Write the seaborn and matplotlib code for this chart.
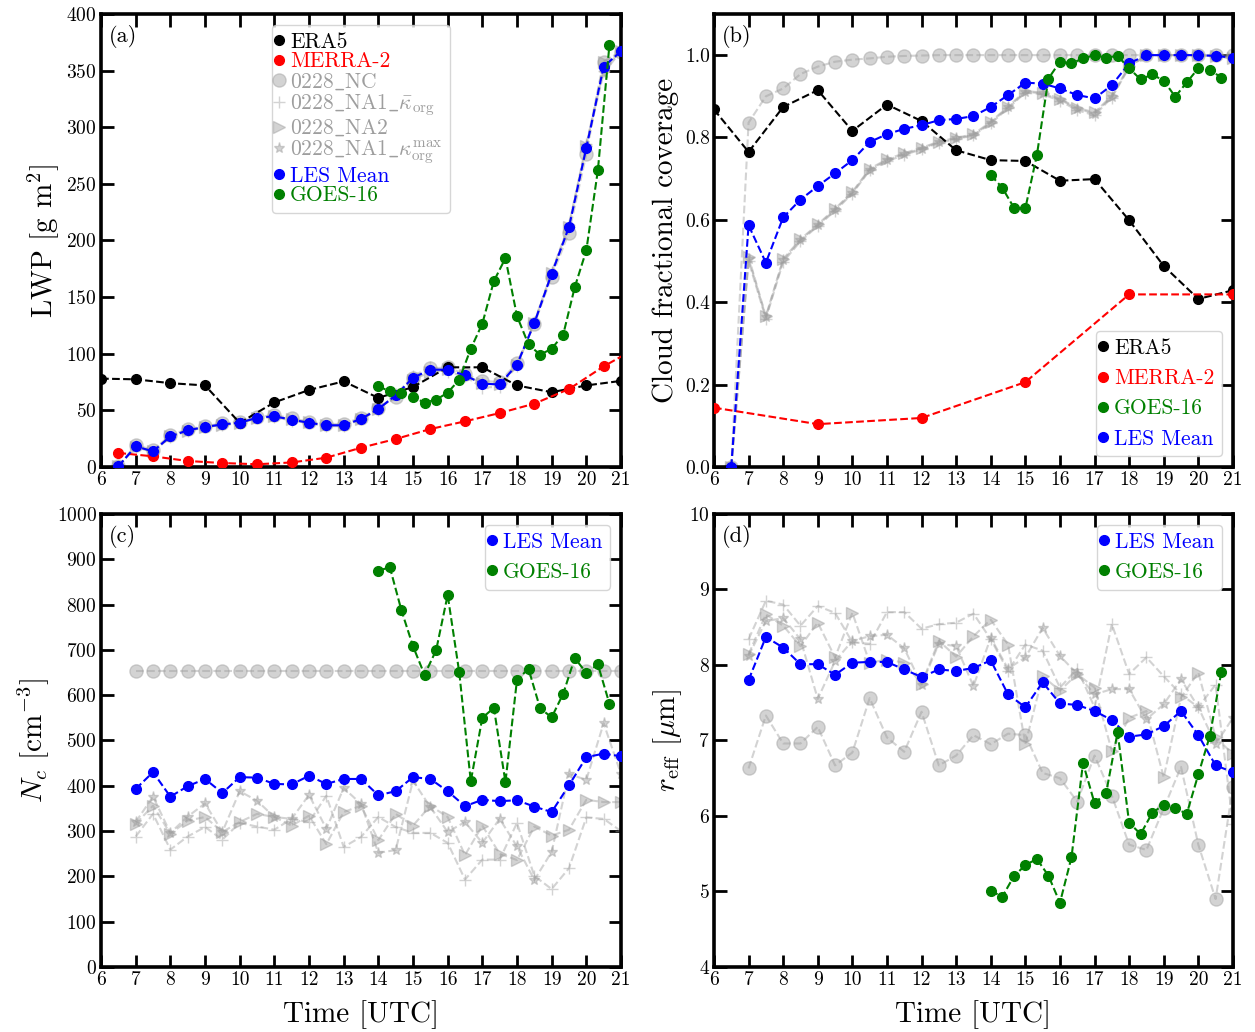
import numpy as np
import pandas as pd
import matplotlib
matplotlib.use("Agg")
import matplotlib.pyplot as plt
import seaborn as sns

# ---------------- time axes ----------------
t_les_ab = np.arange(6.5, 21.01, 0.5)      # LES output, panels (a) and (b)
t_les_cd = np.arange(7.0, 21.01, 0.5)      # LES output, panels (c) and (d)
t_era5 = np.arange(6, 22, 1.0)
t_merra_lwp = np.arange(6.5, 21.51, 1.0)
t_merra_cf = [6, 9, 12, 15, 18, 21]
t_goes = np.round(14 + np.arange(21) / 3.0, 3)

# ---------------- (a) liquid water path [g m^-2] ----------------
era5_lwp = [78, 77.4, 74, 72, 39, 57, 68, 75.6, 61, 70.6, 88, 88, 72, 66, 72, 76]
merra_lwp = [12.4, 9.4, 5.3, 3.5, 2.4, 4.0, 8.2, 17.0, 24.7, 33.5, 40.3, 47.6, 55.9, 68.8, 88.8, 106.0]
goes_lwp = [71.2, 66.8, 65.6, 61.8, 56.8, 59.4, 65.6, 77.0, 104.4, 126.5, 164.1, 184.4,
            133.2, 108.2, 99.1, 104.4, 116.8, 158.8, 191.2, 261.8, 372.6]
les_mean_lwp = [0.6, 18.2, 13.8, 27.0, 32.4, 35.3, 37.6, 39.0, 43.5, 44.7, 41.8, 39.0, 36.8, 36.8,
                42.4, 51.2, 63.2, 78.8, 85.9, 85.9, 80.9, 73.5, 72.9, 90.3, 127.0, 170.6, 211.8,
                281.8, 353.5, 367.0]
nc_lwp = [0.5, 19.5, 15.0, 28.0, 33.5, 36.0, 38.5, 40.0, 44.0, 46.0, 43.0, 40.0, 38.0, 38.0, 43.5,
          52.0, 62.0, 79.0, 87.0, 88.0, 82.0, 76.0, 75.0, 92.0, 126.0, 168.0, 207.0, 276.0, 358.0, 366.0]
na1k_lwp = [0.6, 17.5, 13.0, 26.5, 31.5, 35.0, 37.0, 38.5, 43.0, 44.0, 41.0, 38.5, 36.0, 36.0, 42.0,
            50.5, 64.0, 80.0, 88.5, 84.0, 80.0, 70.0, 71.0, 89.0, 128.0, 172.0, 214.0, 285.0, 350.0, 368.0]
na2_lwp = [0.7, 18.0, 14.0, 27.5, 32.0, 35.5, 37.5, 39.0, 43.5, 45.0, 42.0, 39.5, 37.0, 37.0, 42.5,
           51.5, 63.5, 77.0, 84.0, 86.5, 81.0, 74.0, 73.0, 90.0, 127.5, 171.0, 212.0, 283.0, 358.0, 367.0]
na1max_lwp = [0.6, 18.3, 13.5, 26.8, 32.5, 35.0, 37.5, 38.8, 43.3, 44.5, 41.5, 38.8, 36.5, 36.5, 42.0,
              51.0, 63.0, 78.0, 84.5, 85.0, 80.5, 74.0, 72.5, 90.0, 127.0, 171.0, 213.0, 283.0, 348.0, 367.0]

# ---------------- (b) cloud fractional coverage ----------------
era5_cf = [0.868, 0.765, 0.874, 0.915, 0.816, 0.880, 0.840, 0.769, 0.745, 0.743, 0.695, 0.699,
           0.599, 0.488, 0.408, 0.429]
merra_cf = [0.144, 0.104, 0.119, 0.206, 0.419, 0.419]
goes_cf = [0.709, 0.678, 0.630, 0.628, 0.757, 0.943, 0.984, 0.980, 0.992, 1.0, 0.994, 0.998,
           0.968, 0.941, 0.953, 0.938, 0.899, 0.934, 0.968, 0.965, 0.945]
les_mean_cf = [0.0, 0.587, 0.496, 0.606, 0.649, 0.682, 0.713, 0.745, 0.789, 0.808, 0.821, 0.830,
               0.842, 0.845, 0.852, 0.874, 0.903, 0.933, 0.931, 0.919, 0.903, 0.895, 0.927, 0.980,
               1.0, 1.0, 1.0, 1.0, 0.998, 0.994]
nc_cf = [0.0, 0.836, 0.900, 0.919, 0.954, 0.972, 0.984, 0.989, 0.992, 0.996, 0.998, 0.999, 1.0, 1.0,
         1.0, 1.0, 1.0, 1.0, 1.0, 1.0, 1.0, 1.0, 1.0, 1.0, 1.0, 1.0, 1.0, 1.0, 1.0, 1.0]
na1k_cf = [0.0, 0.500, 0.360, 0.498, 0.548, 0.585, 0.622, 0.664, 0.720, 0.742, 0.758, 0.771, 0.787,
           0.796, 0.805, 0.834, 0.871, 0.909, 0.905, 0.889, 0.866, 0.854, 0.897, 0.970, 1.0, 1.0,
           1.0, 1.0, 0.998, 0.992]
na2_cf = [0.0, 0.510, 0.366, 0.505, 0.553, 0.589, 0.627, 0.668, 0.724, 0.747, 0.762, 0.775, 0.790,
          0.799, 0.808, 0.838, 0.875, 0.913, 0.909, 0.894, 0.872, 0.861, 0.901, 0.973, 1.0, 1.0,
          1.0, 1.0, 0.998, 0.993]
na1max_cf = [0.0, 0.506, 0.364, 0.502, 0.551, 0.587, 0.625, 0.666, 0.722, 0.745, 0.760, 0.773,
             0.789, 0.798, 0.806, 0.836, 0.873, 0.911, 0.907, 0.892, 0.870, 0.858, 0.899, 0.972,
             1.0, 1.0, 1.0, 1.0, 0.998, 0.992]

# ---------------- (c) droplet number concentration [cm^-3] ----------------
goes_nc = [875, 882, 787, 708, 645, 699, 821, 651, 410, 550, 572, 408, 634, 658, 571, 551, 603,
           682, 649, 668, 581]
les_mean_nc = [393, 430, 376, 399, 415, 384, 419, 418, 404, 403, 422, 404, 415, 415, 379, 388, 419,
               415, 388, 355, 369, 366, 368, 354, 342, 401, 463, 471, 465]
nc_nc = [654, 654, 654, 654, 654, 654, 654, 654, 654, 654, 654, 654, 654, 654, 654, 654, 654, 654,
         654, 654, 654, 654, 654, 654, 654, 654, 654, 654, 654]
na1k_nc = [288, 338, 259, 288, 309, 281, 318, 310, 303, 327, 320, 378, 265, 287, 331, 309, 296, 296,
           274, 193, 237, 237, 318, 201, 172, 218, 330, 327, 300]
na2_nc = [316, 356, 294, 323, 331, 298, 320, 338, 331, 312, 334, 271, 342, 356, 280, 338, 312, 356,
          331, 247, 312, 250, 236, 310, 290, 303, 369, 364, 364]
na1max_nc = [320, 376, 296, 332, 361, 298, 388, 367, 331, 327, 380, 305, 395, 360, 252, 258, 411,
             353, 298, 320, 274, 327, 266, 192, 254, 426, 413, 538, 426]

# ---------------- (d) effective radius [um] ----------------
goes_reff = [5.01, 4.93, 5.20, 5.35, 5.43, 5.21, 4.85, 5.45, 6.70, 6.17, 6.30, 7.11, 5.91, 5.76,
             6.04, 6.15, 6.10, 6.03, 6.55, 7.06, 7.91]
les_mean_reff = [7.80, 8.37, 8.23, 8.01, 8.01, 7.87, 8.03, 8.04, 8.04, 7.94, 7.84, 7.94, 7.92, 7.96,
                 8.06, 7.61, 7.44, 7.77, 7.49, 7.47, 7.39, 7.27, 7.05, 7.08, 7.19, 7.39, 7.07, 6.67, 6.58]
nc_reff = [6.63, 7.33, 6.96, 6.96, 7.18, 6.67, 6.84, 7.56, 7.04, 6.85, 7.38, 6.67, 6.80, 7.07, 6.95,
           7.09, 7.07, 6.57, 6.50, 6.19, 6.80, 6.27, 5.62, 5.55, 6.10, 6.65, 5.62, 4.90, 6.38]
na1k_reff = [8.34, 8.85, 8.80, 8.52, 8.78, 8.69, 8.30, 8.28, 8.70, 8.70, 8.48, 8.54, 8.56, 8.68,
             8.34, 7.92, 8.27, 8.19, 7.70, 7.95, 7.44, 8.54, 7.88, 8.10, 7.85, 7.61, 7.44, 7.74, 5.90]
na2_reff = [8.14, 8.67, 8.52, 8.25, 8.56, 8.10, 8.69, 8.03, 8.07, 8.03, 7.75, 8.32, 8.11, 8.38, 8.60,
            8.27, 6.95, 7.85, 7.66, 7.88, 7.70, 6.86, 7.30, 7.39, 6.51, 7.57, 7.90, 7.04, 6.82]
na1max_reff = [8.12, 8.58, 8.62, 8.34, 7.55, 8.05, 8.32, 8.38, 8.40, 8.22, 7.74, 8.28, 8.25, 7.72,
               8.36, 7.95, 8.10, 8.49, 8.12, 7.88, 7.61, 7.68, 7.68, 7.28, 7.48, 7.81, 7.44, 6.95, 7.30]

# ---------------- style ----------------
sns.set_style("ticks")
plt.rcParams.update({
    "font.family": "serif",
    "font.serif": ["cmr10"],
    "mathtext.fontset": "cm",
    "axes.formatter.use_mathtext": True,
    "axes.unicode_minus": False,
    "axes.linewidth": 2.6,
    "axes.edgecolor": "black",
    "axes.labelcolor": "black",
    "text.color": "black",
    "xtick.color": "black",
    "ytick.color": "black",
    "xtick.direction": "in",
    "ytick.direction": "in",
    "xtick.top": True,
    "ytick.right": True,
    "xtick.major.size": 9,
    "ytick.major.size": 9,
    "xtick.major.width": 2.0,
    "ytick.major.width": 2.0,
    "xtick.labelsize": 14,
    "ytick.labelsize": 14,
    "xtick.major.pad": 3,
    "ytick.major.pad": 3,
})

member_lbl = {
    "nc": r"0228$\_$NC",
    "na1k": r"0228$\_$NA1$\_\bar{\kappa}_{\rm org}$",
    "na2": r"0228$\_$NA2",
    "na1max": r"0228$\_$NA1$\_\kappa_{\rm org}^{\rm max}$",
}
GRAY = "0.62"


def draw(ax, x, y, color, marker, label, ms=7, lw=1.5, alpha=1.0, mew=1.0, z=3):
    df = pd.DataFrame({"x": np.asarray(x, float), "y": np.asarray(y, float)})
    sns.lineplot(data=df, x="x", y="y", ax=ax, color=color, marker=marker, linestyle="--",
                 markersize=ms, linewidth=lw, markeredgecolor=color, markeredgewidth=mew,
                 alpha=alpha, label=label, sort=False, zorder=z)


def draw_members(ax, t, nc, na1k, na2, na1max, labels=True):
    lab = (lambda k: member_lbl[k]) if labels else (lambda k: "_nolegend_")
    draw(ax, t, nc, GRAY, "o", lab("nc"), ms=9.5, alpha=0.45, z=2)
    draw(ax, t, na1k, GRAY, "+", lab("na1k"), ms=8, alpha=0.45, z=2)
    draw(ax, t, na2, GRAY, ">", lab("na2"), ms=8, alpha=0.45, z=2)
    draw(ax, t, na1max, GRAY, "*", lab("na1max"), ms=8, alpha=0.45, z=2)


fig = plt.figure(figsize=(12.55, 10.32), dpi=100)
ax_a = fig.add_axes([0.0805, 0.5475, 0.4143, 0.4390])
ax_b = fig.add_axes([0.5689, 0.5475, 0.4135, 0.4390])
ax_c = fig.add_axes([0.0805, 0.0630, 0.4143, 0.4390])
ax_d = fig.add_axes([0.5689, 0.0630, 0.4135, 0.4390])

# (a)
draw(ax_a, t_era5, era5_lwp, "black", "o", "ERA5")
draw(ax_a, t_merra_lwp, merra_lwp, "red", "o", "MERRA-2")
draw_members(ax_a, t_les_ab, nc_lwp, na1k_lwp, na2_lwp, na1max_lwp)
draw(ax_a, t_les_ab, les_mean_lwp, "blue", "o", "LES Mean", z=4)
draw(ax_a, t_goes, goes_lwp, "green", "o", "GOES-16", z=4)

# (b)
draw(ax_b, t_era5, era5_cf, "black", "o", "ERA5")
draw(ax_b, t_merra_cf, merra_cf, "red", "o", "MERRA-2")
draw_members(ax_b, t_les_ab, nc_cf, na1k_cf, na2_cf, na1max_cf, labels=False)
draw(ax_b, t_les_ab, les_mean_cf, "blue", "o", "LES Mean", z=4)
draw(ax_b, t_goes, goes_cf, "green", "o", "GOES-16", z=4)

# (c)
draw_members(ax_c, t_les_cd, nc_nc, na1k_nc, na2_nc, na1max_nc, labels=False)
draw(ax_c, t_les_cd, les_mean_nc, "blue", "o", "LES Mean", z=4)
draw(ax_c, t_goes, goes_nc, "green", "o", "GOES-16", z=4)

# (d)
draw_members(ax_d, t_les_cd, nc_reff, na1k_reff, na2_reff, na1max_reff, labels=False)
draw(ax_d, t_les_cd, les_mean_reff, "blue", "o", "LES Mean", z=4)
draw(ax_d, t_goes, goes_reff, "green", "o", "GOES-16", z=4)


def make_legend(ax, order, **kw):
    handles, labels = ax.get_legend_handles_labels()
    lut = dict(zip(labels, handles))
    leg = ax.legend([lut[k] for k in order], order, handlelength=0, handletextpad=0.5,
                    labelcolor="linecolor", fontsize=15.5, borderpad=0.35, **kw)
    for txt in leg.get_texts():
        txt.set_alpha(1.0)
    return leg


make_legend(ax_a, ["ERA5", "MERRA-2", member_lbl["nc"], member_lbl["na1k"], member_lbl["na2"],
                   member_lbl["na1max"], "LES Mean", "GOES-16"],
            loc="upper center", labelspacing=0.0)
make_legend(ax_b, ["ERA5", "MERRA-2", "GOES-16", "LES Mean"], loc="lower right")
make_legend(ax_c, ["LES Mean", "GOES-16"], loc="upper right")
make_legend(ax_d, ["LES Mean", "GOES-16"], loc="upper right")

# axes limits, ticks and labels
hours = np.arange(6, 22, 1)
for ax, letter in zip([ax_a, ax_b, ax_c, ax_d], "abcd"):
    ax.set_xlim(6, 21)
    ax.set_xticks(hours)
    ax.set_xticklabels([str(h) for h in hours])
    ax.set_xlabel("")
    ax.text(0.015, 0.975, f"({letter})", transform=ax.transAxes, ha="left", va="top", fontsize=16)

ax_a.set_ylim(0, 400)
ax_a.set_yticks(np.arange(0, 401, 50))
ax_a.set_ylabel(r"LWP [g m$^{2}$]", fontsize=21)

ax_b.set_ylim(0, 1.1)
ax_b.set_yticks(np.arange(0, 1.01, 0.2))
ax_b.set_yticklabels([f"{v:.1f}" for v in np.arange(0, 1.01, 0.2)])
ax_b.set_ylabel("Cloud fractional coverage", fontsize=21)

ax_c.set_ylim(0, 1000)
ax_c.set_yticks(np.arange(0, 1001, 100))
ax_c.set_ylabel(r"$N_c$ [cm$^{-3}$]", fontsize=21)
ax_c.set_xlabel("Time [UTC]", fontsize=21, labelpad=8)

ax_d.set_ylim(4, 10)
ax_d.set_yticks(np.arange(4, 11, 1))
ax_d.set_ylabel(r"$r_{\rm eff}$ [$\mu$m]", fontsize=21)
ax_d.set_xlabel("Time [UTC]", fontsize=21, labelpad=8)

fig.savefig("out.png", dpi=100)
